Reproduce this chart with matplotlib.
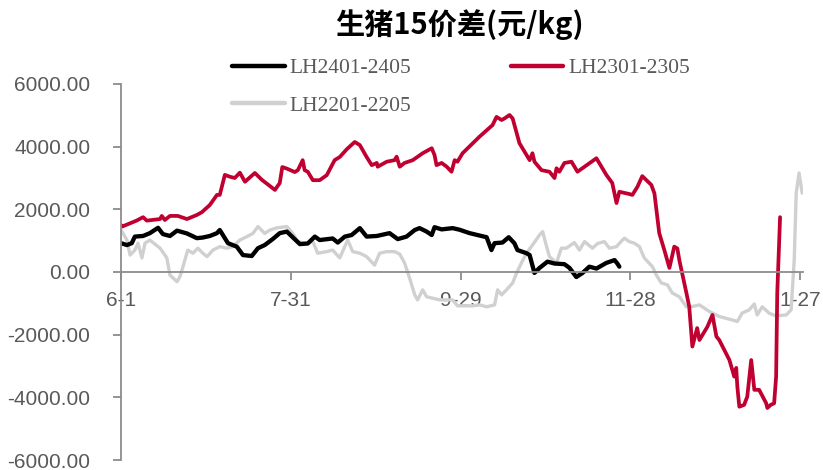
import matplotlib
matplotlib.use("Agg")
import matplotlib.pyplot as plt
from matplotlib.ticker import FormatStrFormatter

plt.rcParams['axes.unicode_minus'] = False

# Days counted from 6-1; spread values for each contract pair
tick_days = [0, 60, 120, 180, 240]
tick_labels = ["6-1", "7-31", "9-29", "11-28", "1-27"]

lh2401_days = [0, 2.1, 3.8, 4.9, 7.8, 10.2, 13.1, 14.8, 17.3, 19.8, 23.3, 26.8, 28.9,
               31.4, 33.9, 34.9, 37.8, 40.9, 43.1, 46.2, 48.4, 50.8, 53.6, 56.1, 58.6,
               63.2, 66, 68.5, 70.2, 74.8, 76.6, 79.1, 81.5, 84.4, 86.8, 90.4, 94.9,
               97.8, 100.9, 103.8, 105.5, 108, 109.8, 110.8, 113.3, 117.2, 119.6, 123.2,
               129.2, 130.9, 132, 134.8, 137, 139, 140.1, 143.3, 144.4, 146.1, 147.9,
               150.7, 153.2, 156.7, 158.5, 160.9, 163.1, 165.5, 168, 171.5, 174.4,
               175.4, 176.1]
lh2401_vals = [920, 860, 920, 1130, 1150, 1240, 1410, 1210, 1150, 1320, 1230, 1080, 1100,
               1150, 1240, 1340, 920, 810, 540, 510, 760, 860, 1050, 1240, 1290,
               890, 910, 1130, 1020, 1070, 940, 1130, 1180, 1400, 1130, 1150, 1240,
               1050, 1130, 1340, 1400, 1290, 1180, 1430, 1360, 1400, 1350, 1240,
               1110, 700, 920, 940, 1110, 920, 700, 600, 540, -30, 130,
               330, 270, 250, 130, -160, -30, 170, 110, 290, 380,
               270, 170]

lh2301_days = [0, 0.4, 5.5, 7.8, 9.1, 13.8, 14.4, 15.5, 17.3, 20.1, 23.3, 26.8, 28.6,
               31.4, 33.9, 34.9, 36.7, 38.5, 40.2, 42, 43.8, 47.3, 49.8, 54.4, 56.1,
               57, 58.6, 61.4, 62.5, 64.2, 64.9, 66, 67.8, 70.2, 72.7, 75.5, 77.3,
               79.8, 82.6, 84.4, 86.8, 88.6, 90.4, 90.7, 93.9, 96.7, 97.4, 98.5, 100.2,
               103.1, 106.6, 109.8, 110.8, 111.5, 113.3, 115.1, 116.8, 117.9, 118.9,
               120.7, 126.7, 131.3, 132.7, 134.5, 135.5, 137.3, 138.4, 140.8, 144.4,
               145.4, 146.1, 148.6, 151.4, 153.2, 153.9, 154.9, 156.7, 159.2, 161.3,
               168, 171.5, 173.6, 175.1, 176.1, 179.6, 180.7, 182.5, 184.2, 187.4,
               188.5, 190.2, 192, 193.8, 195.5, 196.6, 197.3, 199.8, 200.8, 201.9,
               203.6, 204.4, 207.2, 209, 210.4, 211.4, 215, 216.7, 217.4, 217.8,
               218.5, 220.2, 221.3, 222.7, 223.8, 225.5, 228, 228.4, 229.6, 230.8,
               231.5, 231.9, 232.9]
lh2301_vals = [1500, 1450, 1640, 1750, 1640, 1690, 1790, 1660, 1790, 1790, 1690, 1820, 1910,
               2140, 2460, 2460, 3100, 3040, 3000, 3170, 2880, 3160, 2940, 2620, 2840,
               3350, 3300, 3190, 3250, 3570, 3250, 3200, 2930, 2930, 3090, 3570, 3670,
               3920, 4150, 4050, 3670, 3410, 3480, 3360, 3520, 3570, 3680, 3360, 3480,
               3570, 3790, 3950, 3730, 3410, 3480, 3360, 3200, 3570, 3520,
               3790, 4320, 4690, 4950, 4850, 4900, 5010, 4900, 4110, 3570,
               3790, 3520, 3250, 3200, 3000, 3310, 3200, 3480, 3520, 3200,
               3630, 3100, 2840, 2200, 2560, 2490, 2460, 2720, 3060, 2780,
               2510, 1240, 700, 130, 810, 750, 380, -670, -1110, -2380,
               -1790, -2170, -1750, -1370, -2060, -2170, -2810, -3340, -3060, -3660,
               -4300, -4240, -3980, -2810, -3760, -3760, -4190, -4340, -4240, -4190,
               -3340, -680, 1750]

lh2201_days = [0, 2.1, 3.2, 4.9, 6, 7.4, 8.5, 10.2, 13.8, 16.2, 17.3, 19.8, 20.8, 21.9,
               23.6, 25.4, 27.2, 28.9, 30.4, 32.5, 34.9, 37.4, 39.5, 42, 44.5, 46.6,
               48.4, 50.8, 52.6, 55.1, 58.6, 60.7, 62.5, 65.6, 67.8, 69.5, 72.7, 74.8,
               77.3, 80.1, 81.9, 84.4, 86.8, 89.6, 91.4, 93.9, 96.7, 98.5, 100.2, 102,
               103.8, 104.8, 106.6, 108, 112.6, 117.2, 118.9, 124.2, 126.7, 129.2, 132,
               133.1, 134.5, 136.2, 138.4, 139.8, 141.5, 143.3, 145.4, 147.9, 149,
               150.4, 151.4, 153.9, 155.6, 157.4, 160.2, 162, 163.8, 166.6, 168.4,
               170.8, 172.6, 175.1, 177.2, 177.9, 179.6, 181.4, 183.2, 184.9, 187.8,
               189.2, 190.9, 193.1, 194.8, 197.3, 199.8, 201.5, 204.4, 207.9, 211.4,
               216, 217.8, 219.5, 222, 223.8, 224.8, 226.6, 229.1, 231.5, 235.1,
               236.8, 237.9, 238.6, 239.6, 240.7]
lh2201_vals = [1340, 1020, 540, 700, 920, 450, 920, 1020, 760, 450, -100, -310, -150, 170,
               700, 600, 760, 600, 490, 700, 810, 760, 810, 1020, 1130, 1230,
               1450, 1230, 1340, 1410, 1450, 1230, 970, 910, 970, 600, 650, 700,
               450, 1020, 650, 600, 490, 220, 600, 650, 650, 570, 290, -200,
               -730, -890, -570, -790, -890, -890, -1080, -1080, -1050, -1110, -1050,
               -570, -730, -570, -350, -30, 290, 600, 860, 1180, 1290,
               810, 490, 290, 760, 760, 940, 700, 970, 760, 910,
               970, 760, 810, 1020, 1080, 970, 920, 810, 450, 170,
               -100, -350, -410, -670, -790, -1110, -1110, -1050, -1260, -1420,
               -1530, -1580, -1310, -1210, -1020, -1370, -1110, -1320, -1400, -1370,
               -1210, 380, 2520, 3160, 2520]

text_gray = "#595959"
axis_gray = "#8c8c8c"

fig = plt.figure(figsize=(8.23, 4.70), dpi=100)
ax = fig.add_axes([121 / 823, 1 - 460 / 470, (803 - 121) / 823, (460 - 84) / 470])

l3, = ax.plot(lh2201_days, lh2201_vals, color="#d0d0d0", lw=2.4,
              solid_joinstyle="round", solid_capstyle="round", label="LH2201-2205")
l1, = ax.plot(lh2401_days, lh2401_vals, color="#000000", lw=3.1,
              solid_joinstyle="round", solid_capstyle="round", label="LH2401-2405")
l2, = ax.plot(lh2301_days, lh2301_vals, color="#c00030", lw=2.7,
              solid_joinstyle="round", solid_capstyle="round", label="LH2301-2305")

ax.set_xlim(0, 241)
ax.set_ylim(-6000, 6000)
ax.set_yticks([-6000, -4000, -2000, 0, 2000, 4000, 6000])
ax.yaxis.set_major_formatter(FormatStrFormatter("%.2f"))
ax.set_xticks(tick_days)
ax.set_xticklabels(tick_labels)

for s in ("top", "right"):
    ax.spines[s].set_visible(False)
ax.spines["bottom"].set_position(("data", 0))
for s in ("left", "bottom"):
    ax.spines[s].set_color(axis_gray)
    ax.spines[s].set_linewidth(1.3)

ax.tick_params(axis="y", direction="out", length=6, width=1.3, color=axis_gray,
               labelcolor=text_gray, labelsize=15, pad=16)
ax.tick_params(axis="x", direction="out", length=6, width=1.3, color=axis_gray,
               labelcolor=text_gray, labelsize=15, pad=8)
for lab in ax.get_xticklabels() + ax.get_yticklabels():
    lab.set_family("Liberation Sans")

fig.text(459 / 823, 1 - 25 / 470, "生猪15价差(元/kg)", ha="center", va="center",
         fontsize=21, fontweight="bold", color="#000000",
         family=["Noto Sans CJK SC", "DejaVu Sans"])

leg = fig.legend([l1, l3, l2], ["LH2401-2405", "LH2201-2205", "LH2301-2305"],
                 ncol=2, loc="upper left", bbox_to_anchor=(213 / 823, 1 - 39 / 470),
                 frameon=False, handlelength=2.45, handletextpad=0.22,
                 columnspacing=4.6, labelspacing=0.8,
                 prop={"family": "Liberation Serif", "size": 15.5})
for t in leg.get_texts():
    t.set_color(text_gray)
for h in leg.legend_handles:
    h.set_linewidth(3.2)

fig.savefig("out.png", dpi=100)
